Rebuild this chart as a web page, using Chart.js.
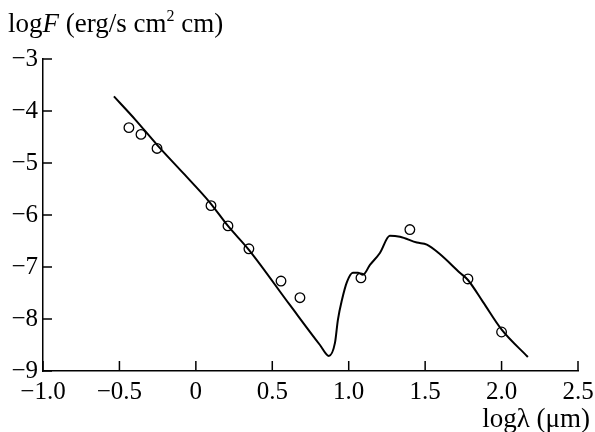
<!DOCTYPE html>
<html lang="en">
<head>
    <meta charset="UTF-8">
    <title>log F vs log lambda</title>
    <script src="https://cdn.jsdelivr.net/npm/chart.js"></script>
    <style>
        body { margin: 0; background: #fff; }
        #wrap { position: relative; width: 595px; height: 432px; }
        .title {
            position: absolute;
            font-family: "Liberation Serif", serif;
            font-size: 27px;
            color: #000;
            white-space: nowrap;
            line-height: 1;
        }
        #ytitle { left: 8px; top: 10px; }
        #xtitle { right: 5px; top: 405px; }
        sup { font-size: 16px; vertical-align: 11px; line-height: 0; }
    </style>
</head>
<body>
<div id="wrap">
    <canvas id="chart" width="595" height="432"></canvas>
    <div class="title" id="ytitle">log<i>F</i> (erg/s cm<sup>2</sup> cm)</div>
    <div class="title" id="xtitle">logλ (μm)</div>
</div>

<script>
    // model curve
    const curveX = [-0.536, -0.398, -0.254, -0.084, 0.092, 0.210, 0.347, 0.615, 0.812, 0.870,
                    0.910, 0.929, 0.956, 0.988, 1.027, 1.060, 1.093, 1.139, 1.204, 1.269,
                    1.335, 1.446, 1.511, 1.596, 1.727, 1.780, 1.878, 2.002, 2.172];
    const curveY = [-3.72, -4.16, -4.65, -5.19, -5.76, -6.21, -6.67, -7.73, -8.50, -8.71,
                    -8.46, -8.02, -7.63, -7.29, -7.11, -7.11, -7.15, -6.96, -6.73, -6.40,
                    -6.42, -6.53, -6.57, -6.75, -7.11, -7.25, -7.67, -8.21, -8.73];

    // observed points
    const obsX = [-0.438, -0.359, -0.254, 0.099, 0.210, 0.347, 0.557, 0.681, 1.080, 1.400, 1.780, 2.000];
    const obsY = [-4.32, -4.45, -4.72, -5.82, -6.21, -6.65, -7.27, -7.59, -7.21, -6.28, -7.23, -8.25];

    const xTicks = [-1.0, -0.5, 0, 0.5, 1.0, 1.5, 2.0, 2.5];
    const yTicks = [-9, -8, -7, -6, -5, -4, -3];

    const font = { family: "Liberation Serif", size: 25 };

    // ticks pointing into the plot
    const inwardTicks = {
        id: 'inwardTicks',
        afterDraw(chart) {
            const ctx = chart.ctx;
            const xs = chart.scales.x, ys = chart.scales.y;
            const area = chart.chartArea;
            ctx.save();
            ctx.strokeStyle = "#000";
            ctx.lineWidth = 1.5;
            ctx.beginPath();
            xTicks.forEach(v => {
                const px = xs.getPixelForValue(v);
                ctx.moveTo(px, area.bottom);
                ctx.lineTo(px, area.bottom - 10);
            });
            yTicks.forEach(v => {
                const py = ys.getPixelForValue(v);
                ctx.moveTo(area.left, py);
                ctx.lineTo(area.left + 9, py);
            });
            ctx.stroke();
            ctx.restore();
        }
    };

    new Chart(document.getElementById("chart"), {
        type: 'scatter',
        data: {
            datasets: [{
                data: curveX.map((x, i) => ({ x: x, y: curveY[i] })),
                showLine: true,
                borderColor: "#000",
                borderWidth: 2,
                pointRadius: 0,
                cubicInterpolationMode: 'monotone',
                fill: false
            }, {
                data: obsX.map((x, i) => ({ x: x, y: obsY[i] })),
                showLine: false,
                pointRadius: 4.8,
                pointBorderWidth: 1.3,
                pointBorderColor: "#000",
                pointBackgroundColor: "#fff"
            }]
        },
        options: {
            responsive: false,
            animation: false,
            layout: { padding: { left: 0, right: 17, top: 59, bottom: 0 } },
            plugins: { legend: { display: false }, tooltip: { enabled: false } },
            scales: {
                x: {
                    type: 'linear',
                    min: -1.0, max: 2.5,
                    afterBuildTicks: s => { s.ticks = xTicks.map(v => ({ value: v })); },
                    afterFit: s => { s.height = 61; s.paddingLeft = 0; s.paddingRight = 0; },
                    grid: { display: false, drawTicks: false },
                    border: { color: "#000", width: 1.5 },
                    ticks: {
                        color: "#000", font: font, padding: 6, maxRotation: 0,
                        callback: v => v === 0 ? "0" : (v < 0 ? "\u2212" : "") + Math.abs(v).toFixed(1)
                    }
                },
                y: {
                    min: -9, max: -3,
                    afterBuildTicks: s => { s.ticks = yTicks.map(v => ({ value: v })); },
                    afterFit: s => { s.width = 43; s.paddingTop = 0; s.paddingBottom = 0; },
                    grid: { display: false, drawTicks: false },
                    border: { color: "#000", width: 1.5 },
                    ticks: {
                        color: "#000", font: font, padding: 5,
                        callback: v => "\u2212" + Math.abs(v)
                    }
                }
            }
        },
        plugins: [inwardTicks]
    });
</script>
</body>
</html>
